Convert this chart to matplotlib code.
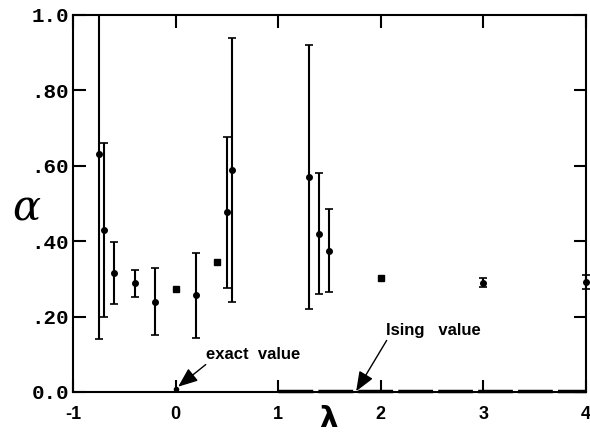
import matplotlib
matplotlib.use("Agg")
import matplotlib.pyplot as plt

# points with error bars (circles)
lam_err = [-0.75, -0.70, -0.60, -0.40, -0.20, 0.20, 0.50, 0.55, 1.30, 1.40, 1.50, 3.0]
alpha_err = [0.63, 0.43, 0.315, 0.288, 0.24, 0.256, 0.477, 0.588, 0.57, 0.42, 0.375, 0.29]
err = [0.49, 0.23, 0.082, 0.036, 0.09, 0.112, 0.20, 0.35, 0.35, 0.16, 0.11, 0.012]

# point sitting on the right edge
lam_edge = [4.0]
alpha_edge = [0.291]
err_edge = [0.018]

# points without visible error bars (squares)
lam_sq = [0.0, 0.4, 2.0]
alpha_sq = [0.273, 0.344, 0.303]

# exact value and Ising value
lam_exact = [0.0]
alpha_exact = [0.008]
lam_ising = [1.0, 4.0]
alpha_ising = [0.003, 0.003]

x_ticks = [-1, 0, 1, 2, 3, 4]
x_labels = ["-1", "0", "1", "2", "3", "4"]
y_ticks = [0.0, 0.2, 0.4, 0.6, 0.8, 1.0]
y_labels = ["0.0", ".20", ".40", ".60", ".80", "1.0"]

sans = ["Liberation Sans Narrow", "Liberation Sans", "DejaVu Sans"]
mono = ["Liberation Mono", "DejaVu Sans Mono"]

fig = plt.figure(figsize=(5.9, 4.34), dpi=100)
ax = fig.add_axes([0.1237, 0.0968, 0.8695, 0.8687])

ax.errorbar(lam_err, alpha_err, yerr=err, fmt="o", color="black",
            markersize=4, elinewidth=1.5, capsize=3, capthick=1.2)
ax.errorbar(lam_edge, alpha_edge, yerr=err_edge, fmt="o", color="black",
            markersize=4, elinewidth=1.5, capsize=3, capthick=1.2, clip_on=False)
ax.plot(lam_sq, alpha_sq, "s", color="black", markersize=4.5)
ax.plot(lam_exact, alpha_exact, "o", color="black", markersize=3, clip_on=False)
ax.plot(lam_ising, alpha_ising, color="black", linewidth=2.5,
        dashes=(10, 1.5), clip_on=False)

ax.set_xlim(-1, 4)
ax.set_ylim(0, 1.0)
ax.set_xticks(x_ticks)
ax.set_xticklabels(x_labels, fontfamily=sans, fontweight="bold", fontsize=13)
ax.set_yticks(y_ticks)
ax.set_yticklabels(y_labels, fontfamily=mono, fontweight="bold", fontsize=15)
ax.tick_params(direction="in", length=9, width=1.5, top=True, right=True,
               labeltop=False, labelright=False, pad=3)
ax.tick_params(axis="x", pad=10)

for spine in ax.spines.values():
    spine.set_linewidth(1.5)

fig.text(0.557, 0.003, "λ", fontsize=21, fontweight="bold",
         fontfamily="DejaVu Sans", ha="center", va="bottom")
fig.text(0.045, 0.52, "α", fontsize=30, fontstyle="italic",
         fontfamily="DejaVu Serif", ha="center", va="center")

ax.annotate("exact  value", xy=(0.025, 0.014), xytext=(0.30, 0.10),
            fontsize=12, fontweight="bold", fontfamily=sans, va="center",
            arrowprops=dict(arrowstyle="-|>,head_length=1.0,head_width=0.4",
                            color="black", lw=1.0, shrinkA=0, shrinkB=0,
                            relpos=(0.03, 0.0)))
ax.annotate("Ising   value", xy=(1.76, 0.002), xytext=(2.055, 0.164),
            fontsize=12, fontweight="bold", fontfamily=sans, va="center",
            arrowprops=dict(arrowstyle="-|>,head_length=1.0,head_width=0.4",
                            color="black", lw=1.0, shrinkA=0, shrinkB=0,
                            relpos=(0.02, 0.0)))

fig.savefig("out.png", dpi=100)
